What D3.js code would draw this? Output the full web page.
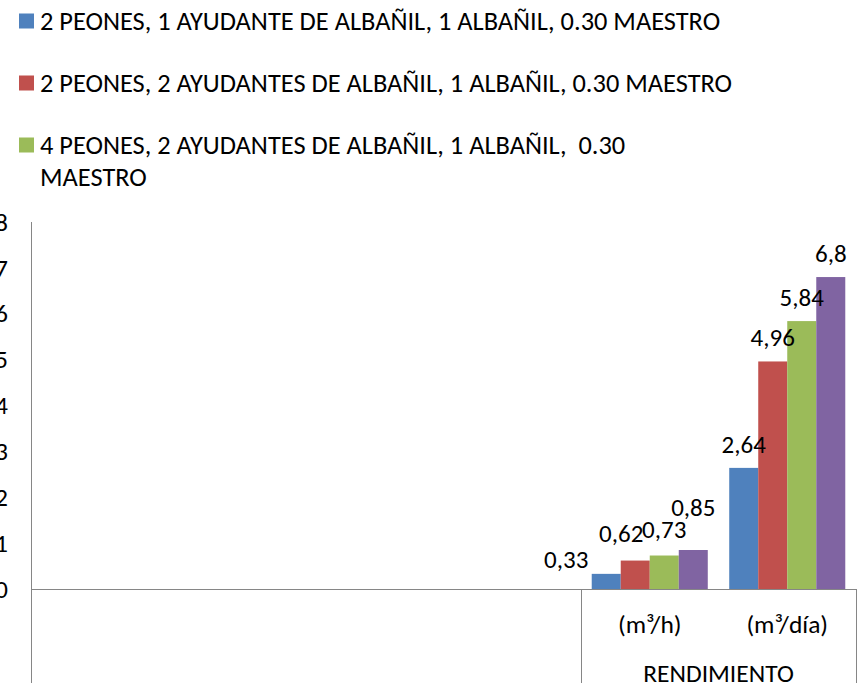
<!DOCTYPE html>
<html>
<head>
<meta charset="utf-8">
<script src="https://cdn.jsdelivr.net/npm/d3@7"></script>
<style>
  html, body { margin: 0; padding: 0; background: #fff; }
  svg { display: block; }
  text { font-family: Carlito, Calibri, Lato, sans-serif; fill: #000; }
</style>
</head>
<body>
<svg id="chart" width="865" height="683"></svg>
<script>
// Categories along the x axis (lower level) and their parent groups
const categories = ["", "", "", "", "(m³/h)", "(m³/día)"];
const groups = [
  { name: "", span: 4 },
  { name: "RENDIMIENTO", span: 2 }
];

// Crew compositions (legend entries shown)
const seriesNames = [
  "2 PEONES, 1 AYUDANTE DE ALBAÑIL, 1 ALBAÑIL, 0.30 MAESTRO",
  "2 PEONES, 2 AYUDANTES DE ALBAÑIL, 1 ALBAÑIL, 0.30 MAESTRO",
  "4 PEONES, 2 AYUDANTES DE ALBAÑIL, 1 ALBAÑIL,  0.30 MAESTRO"
];

// Output per crew, one value per category (null = no data)
const crew1 = [null, null, null, null, 0.33, 2.64];
const crew2 = [null, null, null, null, 0.62, 4.96];
const crew3 = [null, null, null, null, 0.73, 5.84];
const crew4 = [null, null, null, null, 0.85, 6.8];

const yTicks = [0, 1, 2, 3, 4, 5, 6, 7, 8];

const colors = ["#4F81BD", "#C0504D", "#9BBB59", "#8064A2"];
const seriesValues = [crew1, crew2, crew3, crew4];

// Label nudges for the crowded (m³/h) group
const labelNudge = {
  "0-4": [-40, 9],
  "1-4": [-14, -3],
  "2-4": [0, -2],
  "3-4": [0, -19]
};

const svg = d3.select("#chart");
const plotLeft = 31, plotRight = 856, plotTop = 222, zeroY = 589, plotBottom = 683;
const axisFs = 25.5, labelFs = 25, legendFs = 26.4;
const fontStack = "Carlito, Calibri, Lato, sans-serif";

const x0 = d3.scaleBand()
  .domain(d3.range(categories.length))
  .range([plotLeft, plotRight])
  .paddingInner(0).paddingOuter(0);

const bw = x0.bandwidth();
const x1 = d3.scaleBand()
  .domain(d3.range(seriesValues.length))
  .range([bw * 0.078, bw * 0.922])
  .padding(0);

const y = d3.scaleLinear().domain([0, 8]).range([zeroY, plotTop]);

// Y axis labels (no tick marks)
const yAxis = d3.axisLeft(y).tickValues(yTicks).tickSize(0).tickPadding(0)
  .tickFormat(d3.format("d"));
const yg = svg.append("g").attr("transform", `translate(8,0)`).call(yAxis);
yg.select(".domain").remove();
yg.selectAll("text")
  .style("font-family", fontStack)
  .style("font-size", axisFs + "px")
  .attr("fill", "#000");

// Bars
seriesValues.forEach((vals, s) => {
  svg.append("g").selectAll("rect")
    .data(vals.map((v, i) => ({ v, i })).filter(d => d.v != null))
    .join("rect")
    .attr("x", d => x0(d.i) + x1(s))
    .attr("width", x1.bandwidth())
    .attr("y", d => y(d.v))
    .attr("height", d => y(0) - y(d.v))
    .attr("fill", colors[s]);
});

// Value labels
seriesValues.forEach((vals, s) => {
  svg.append("g").selectAll("text")
    .data(vals.map((v, i) => ({ v, i })).filter(d => d.v != null))
    .join("text")
    .attr("x", d => x0(d.i) + x1(s) + x1.bandwidth() / 2 + ((labelNudge[s + "-" + d.i] || [0, 0])[0]))
    .attr("y", d => y(d.v) - 24 + ((labelNudge[s + "-" + d.i] || [0, 0])[1]))
    .attr("dy", "0.35em")
    .attr("text-anchor", "middle")
    .style("font-size", labelFs + "px")
    .text(d => String(d.v).replace(".", ","));
});

// Axis lines
const axisColor = "#868686";
svg.append("line").attr("x1", plotLeft + 0.5).attr("x2", plotLeft + 0.5)
  .attr("y1", plotTop).attr("y2", plotBottom).attr("stroke", axisColor).attr("stroke-width", 1);
svg.append("line").attr("x1", plotLeft).attr("x2", plotRight)
  .attr("y1", zeroY + 0.5).attr("y2", zeroY + 0.5).attr("stroke", axisColor).attr("stroke-width", 1);

// Group separators below the category axis
let idx = 0;
const bounds = [];
groups.forEach(g => { idx += g.span; bounds.push(idx); });
bounds.forEach(b => {
  const bx = b >= categories.length ? plotRight : x0(b);
  svg.append("line").attr("x1", Math.round(bx) + 0.5).attr("x2", Math.round(bx) + 0.5)
    .attr("y1", zeroY).attr("y2", plotBottom).attr("stroke", axisColor).attr("stroke-width", 1);
});

// Category labels
svg.append("g").selectAll("text")
  .data(categories.map((c, i) => ({ c, i })).filter(d => d.c))
  .join("text")
  .attr("x", d => x0(d.i) + bw / 2)
  .attr("y", 624)
  .attr("dy", "0.35em")
  .attr("text-anchor", "middle")
  .style("font-size", axisFs + "px")
  .text(d => d.c);

// Group labels
let start = 0;
groups.forEach(g => {
  if (g.name) {
    const gx0 = x0(start), gx1 = start + g.span >= categories.length ? plotRight : x0(start + g.span);
    svg.append("text")
      .attr("x", (gx0 + gx1) / 2)
      .attr("y", 673)
      .attr("dy", "0.35em")
      .attr("text-anchor", "middle")
      .style("font-size", axisFs + "px")
      .text(g.name);
  }
  start += g.span;
});

// Legend
const legendRows = [
  { s: 0, lines: [seriesNames[0]], y: 21 },
  { s: 1, lines: [seriesNames[1]], y: 83 },
  { s: 2, lines: ["4 PEONES, 2 AYUDANTES DE ALBAÑIL, 1 ALBAÑIL,  0.30", "MAESTRO"], y: 145 }
];
const lg = svg.append("g");
legendRows.forEach(r => {
  lg.append("rect").attr("x", 19).attr("y", r.y - 7.5).attr("width", 15).attr("height", 15)
    .attr("fill", colors[r.s]);
  const t = lg.append("text").attr("y", r.y)
    .style("font-size", legendFs + "px").style("white-space", "pre");
  r.lines.forEach((ln, k) => {
    t.append("tspan").attr("x", 40).attr("dy", k === 0 ? "0.35em" : "32px").text(ln);
  });
});
</script>
</body>
</html>
